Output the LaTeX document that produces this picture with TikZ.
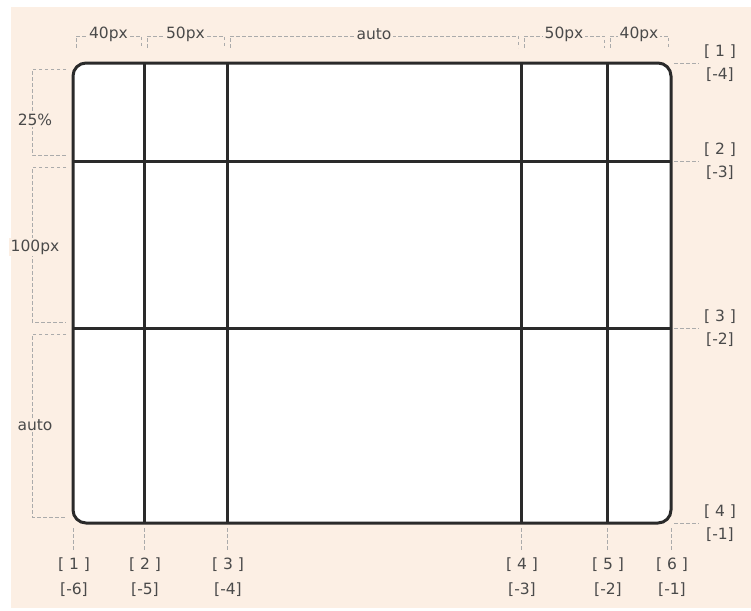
\documentclass[tikz,border=0pt]{standalone}
\usepackage{fontspec}
\setmainfont{DejaVu Sans}
\definecolor{peach}{HTML}{FCEFE4}
\definecolor{gridc}{HTML}{2A2A2A}
\definecolor{dimc}{HTML}{ABABAB}
\definecolor{txt}{HTML}{4A4A4A}
\tikzset{
  gridline/.style={draw=gridc, line width=3pt},
  dimline/.style={draw=dimc, line width=0.8pt, dash pattern=on 3.5pt off 2.5pt},
  dimlabel/.style={fill=peach, text=txt, font=\fontsize{15.5}{15.5}\selectfont, inner sep=1.5pt},
  idxlabel/.style={text=txt, font=\fontsize{15.5}{15.5}\selectfont, inner sep=0pt},
}
\begin{document}
\begin{tikzpicture}[x=1pt,y=-1pt]
\useasboundingbox (0,0) rectangle (751,610);
\fill[white] (0,0) rectangle (751,610);
\fill[peach] (11,7) rectangle (751,608);
% grid
\draw[gridline, fill=white, rounded corners=13pt] (73,63) rectangle (671,523);
\foreach \x [count=\i] in {144,227,521,607} {
  \coordinate (vt\i) at (\x,63);
  \coordinate (vb\i) at (\x,523);
  \draw[gridline] (vt\i) -- (vb\i);
}
\foreach \y [count=\i] in {161,328} {
  \coordinate (hl\i) at (73,\y);
  \coordinate (hr\i) at (671,\y);
  \draw[gridline] (hl\i) -- (hr\i);
}
% top dimensions
\foreach \a/\b/\t [count=\i] in {73/144/40px, 144/227/50px, 227/521/auto, 521/607/50px, 607/671/40px} {
  \draw[dimline] (\a+3,48) -- (\a+3,36) -- (\b-3,36) -- (\b-3,48);
  \node[dimlabel] (top\i) at ({(\a+\b)/2},34) {\t};
}
% left dimensions
\foreach \a/\b/\t/\ly [count=\i] in {63/161/25\%/120, 161/328/100px/247, 328/523/auto/425} {
  \draw[dimline] (66,\a+6) -- (32,\a+6) -- (32,\b-6) -- (66,\b-6);
  \node[dimlabel] (left\i) at (35,\ly) {\t};
}
% right row indices
\foreach \y/\p/\n [count=\i] in {63/1/-4, 161/2/-3, 328/3/-2, 523/4/-1} {
  \coordinate (rs\i) at (674,\y);
  \coordinate (re\i) at (699,\y);
  \draw[dimline] (rs\i) -- (re\i);
  \node[idxlabel] (rp\i) at (720,\y-11) {[ \p\ ]};
  \node[idxlabel] (rn\i) at (720,\y+12) {[\n]};
}
% bottom column indices
\foreach \x/\p/\n [count=\i] in {73/1/-6, 144/2/-5, 227/3/-4, 521/4/-3, 607/5/-2, 671/6/-1} {
  \coordinate (bs\i) at (\x,528);
  \coordinate (be\i) at (\x,550);
  \draw[dimline] (bs\i) -- (be\i);
  \node[idxlabel] (bp\i) at (\x+1,565) {[ \p\ ]};
  \node[idxlabel] (bn\i) at (\x+1,590) {[\n]};
}
\end{tikzpicture}
\end{document}
